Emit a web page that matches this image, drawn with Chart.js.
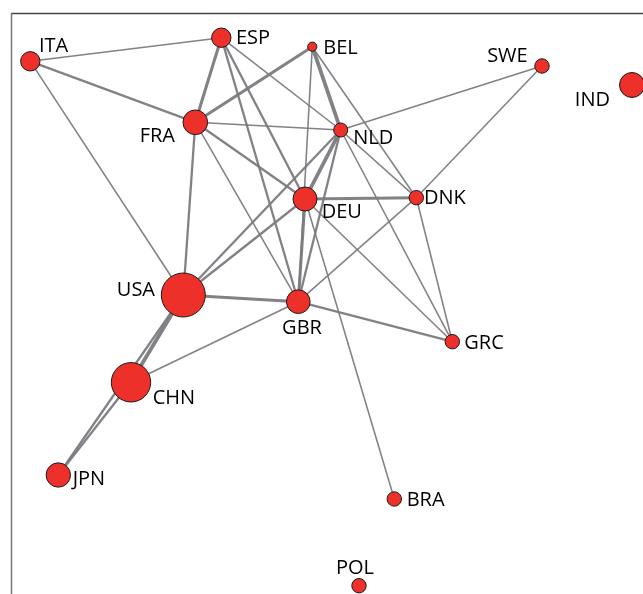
<!DOCTYPE html>
<html>
<head>
<meta charset="utf-8">
<script src="https://cdn.jsdelivr.net/npm/chart.js@4/dist/chart.umd.min.js"></script>
<style>
  html, body { margin: 0; padding: 0; background: #ffffff; }
  #wrap { width: 643px; height: 594px; }
</style>
</head>
<body>
<div id="wrap"><canvas id="net" width="643" height="594"></canvas></div>
<script>
// Country nodes and their layout coordinates
const countries  = ['ITA', 'ESP', 'BEL', 'SWE', 'IND', 'FRA', 'NLD', 'DEU', 'DNK', 'USA', 'GBR', 'GRC', 'CHN', 'JPN', 'BRA', 'POL'];
const layoutX    = [30.3, 221.3, 312.3, 542, 632, 195.3, 340.7, 305, 416.3, 183.3, 298.3, 452.3, 131, 58.3, 394.3, 359];
const layoutY    = [61.3, 37.7, 46.7, 66, 85, 122.3, 130, 199, 197.7, 295, 301.7, 341.7, 382.3, 475, 499, 585.7];
const nodeStrength = [23.5, 23.5, 5.3, 13, 39, 38, 12.3, 36, 13, 121, 35, 13, 97, 37, 13, 13];

// Links between countries
const edgeSource = ['ITA','ITA','ITA','ESP','ESP','ESP','ESP','FRA','FRA','FRA','FRA','FRA','BEL','BEL','BEL','NLD','NLD','NLD','NLD','NLD','NLD','DEU','DEU','DEU','DEU','DEU','DNK','DNK','DNK','GBR','GBR','GBR','USA','USA','CHN'];
const edgeTarget = ['ESP','FRA','USA','FRA','DEU','GBR','NLD','BEL','NLD','DEU','GBR','USA','NLD','GBR','DNK','DEU','GBR','DNK','GRC','USA','SWE','DNK','GBR','USA','GRC','BRA','SWE','GBR','GRC','GRC','USA','CHN','CHN','JPN','JPN'];
const edgeWeight = [1, 2, 1, 3, 2, 2, 1, 3, 1, 2, 1, 2, 4, 1, 1, 4, 2, 1, 1, 2, 1, 3, 3, 2, 1, 1, 1, 1, 1, 2, 3, 1, 4, 2, 2];

// Label placement around each node: [dx, dy, align]
const labelPlacement = {
  ITA: [8.7, -9.6, 'left'],  ESP: [14.7, 6.6, 'left'],  BEL: [11, 7.3, 'left'],
  SWE: [-14.3, -3.7, 'right'], IND: [-22, 21, 'right'], FRA: [-20.3, 19.4, 'right'],
  NLD: [12.6, 14, 'left'],   DEU: [16.7, 19.3, 'left'], DNK: [7.7, 6.3, 'left'],
  USA: [-28.3, 1, 'right'],  GBR: [3.7, 32.3, 'center'], GRC: [12, 7.3, 'left'],
  CHN: [21.7, 21.7, 'left'], JPN: [14.4, 10, 'left'],   BRA: [12.4, 7, 'left'],
  POL: [-4, -11.7, 'center']
};

const idx = name => countries.indexOf(name);
const radiusOf = v => 2 * Math.sqrt(v);

const edgeDatasets = edgeSource.map((s, i) => {
  const a = idx(s), b = idx(edgeTarget[i]);
  return {
    type: 'line',
    data: [{ x: layoutX[a], y: layoutY[a] }, { x: layoutX[b], y: layoutY[b] }],
    borderColor: 'rgba(122,122,128,0.95)',
    borderWidth: 0.8 + 0.75 * edgeWeight[i],
    pointRadius: 0,
    fill: false,
    tension: 0,
    clip: false,
    order: 2
  };
});

const nodeDataset = {
  type: 'bubble',
  data: countries.map((c, i) => ({ x: layoutX[i], y: layoutY[i], r: radiusOf(nodeStrength[i]) })),
  backgroundColor: '#ee302a',
  borderColor: '#1a1a1a',
  borderWidth: 1,
  hoverRadius: 0,
  clip: false,
  order: 1
};

const framePlugin = {
  id: 'frame',
  beforeDatasetsDraw(chart) {
    const { ctx, chartArea } = chart;
    ctx.save();
    ctx.lineWidth = 1.3;
    ctx.strokeStyle = '#444';
    ctx.beginPath();
    ctx.moveTo(chartArea.left, chartArea.top + 0.5);
    ctx.lineTo(chart.width, chartArea.top + 0.5);
    ctx.stroke();
    ctx.strokeStyle = '#777';
    ctx.lineWidth = 1.5;
    ctx.beginPath();
    ctx.moveTo(chartArea.left + 0.5, chartArea.top);
    ctx.lineTo(chartArea.left + 0.5, chart.height);
    ctx.stroke();
    ctx.restore();
  }
};

const labelPlugin = {
  id: 'nodeLabels',
  afterDatasetsDraw(chart) {
    const { ctx, scales } = chart;
    ctx.save();
    ctx.font = '20px "Open Sans", sans-serif';
    ctx.fillStyle = '#000';
    ctx.textBaseline = 'alphabetic';
    countries.forEach((c, i) => {
      const [dx, dy, align] = labelPlacement[c];
      ctx.textAlign = align;
      ctx.fillText(c, scales.x.getPixelForValue(layoutX[i]) + dx, scales.y.getPixelForValue(layoutY[i]) + dy);
    });
    ctx.restore();
  }
};

new Chart(document.getElementById('net'), {
  type: 'bubble',
  data: { datasets: [...edgeDatasets, nodeDataset] },
  options: {
    responsive: false,
    animation: false,
    events: [],
    layout: { autoPadding: false, padding: { left: 11, top: 13, right: 0, bottom: 0 } },
    plugins: { legend: { display: false }, tooltip: { enabled: false } },
    scales: {
      x: { type: 'linear', min: 11, max: 643, display: false },
      y: { type: 'linear', min: 13, max: 594, reverse: true, display: false }
    }
  },
  plugins: [framePlugin, labelPlugin]
});
</script>
</body>
</html>
